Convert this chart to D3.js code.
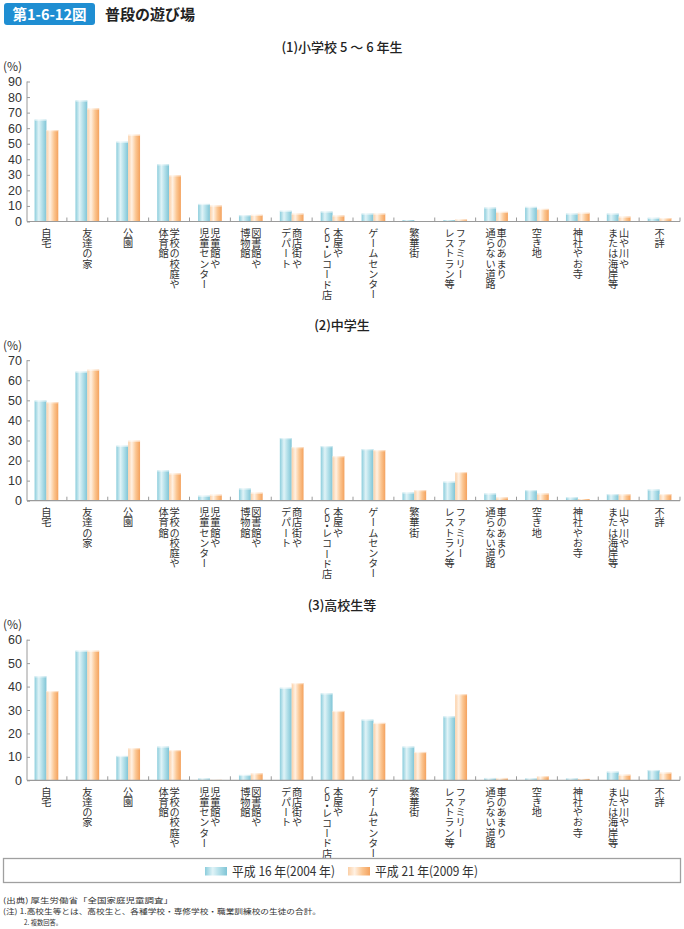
<!DOCTYPE html>
<html><head><meta charset="utf-8">
<script src="https://cdn.jsdelivr.net/npm/d3@7/dist/d3.min.js"></script>
<style>
html,body{margin:0;padding:0;background:#fff;}
svg{display:block;font-family:"Noto Sans CJK JP","Noto Sans",sans-serif;}
</style></head>
<body>
<script>
// ---- data ----
const categories = ["自宅","友達の家","公園","学校の校庭や\n体育館","児童館や\n児童センター","図書館や\n博物館","商店街や\nデパート","本屋や\nCD・レコード店","ゲームセンター","繁華街","ファミリー\nレストラン等","車のあまり\n通らない道路","空き地","神社やお寺","山や川や\nまたは海岸等","不詳"];
const seriesNames = ["平成 16 年(2004 年)","平成 21 年(2009 年)"];
const panelTitles = ["(1)小学校 5 〜 6 年生","(2)中学生","(3)高校生等"];
const elem2004 = [65.5,77.8,51.3,36.8,11.3,4.1,6.9,6.4,5.1,0.9,0.9,9.0,9.4,5.1,5.1,2.4];
const elem2009 = [58.8,72.7,55.8,29.7,10.3,4.3,5.1,3.9,5.1,0.3,1.5,6.2,8.1,5.6,3.2,2.2];
const junior2004 = [49.9,64.3,27.4,15.1,2.5,6.1,31.2,27.2,25.7,4.1,9.5,3.6,5.3,1.8,3.3,5.6];
const junior2009 = [49.1,65.3,29.9,13.6,3.0,4.0,26.7,22.2,25.2,5.3,14.3,1.7,3.6,0.8,3.2,3.3];
const high2004 = [44.4,55.3,10.4,14.4,0.9,2.3,39.5,37.1,25.9,14.4,27.3,1.0,0.9,0.9,3.7,4.4];
const high2009 = [38.1,55.3,13.7,12.9,0.2,3.0,41.5,29.6,24.5,12.1,36.8,1.0,1.8,0.6,2.4,3.3];
const yTicks1 = [0,10,20,30,40,50,60,70,80,90];
const yTicks2 = [0,10,20,30,40,50,60,70];
const yTicks3 = [0,10,20,30,40,50,60];
const sourceNote = "(出典) 厚生労働省「全国家庭児童調査」";
const note1 = "(注) 1.高校生等とは、高校生と、各種学校・専修学校・職業訓練校の生徒の合計。";
const note2 = "2. 複数回答。";

const W = 684, H = 929;
const svg = d3.select("body").append("svg").attr("width", W).attr("height", H);

// gradients
const defs = svg.append("defs");
function grad(id, stops){
  const g = defs.append("linearGradient").attr("id", id).attr("x1","0%").attr("x2","100%").attr("y1","0%").attr("y2","0%");
  stops.forEach(s => g.append("stop").attr("offset", s[0]).attr("stop-color", s[1]));
}
grad("gBlue", [["0%","#8bcddc"],["35%","#e0f3f7"],["60%","#b8e2eb"],["100%","#80c5d6"]]);
grad("gOrange", [["0%","#fbcfa6"],["30%","#fff1e3"],["65%","#fbc590"],["100%","#f4a25e"]]);
const fills = ["url(#gBlue)","url(#gOrange)"];
const numFont = "'Liberation Sans', Arial, sans-serif";

// header
svg.append("rect").attr("x",4).attr("y",3).attr("width",91).attr("height",22).attr("rx",3).attr("fill","#1f8ed2");
svg.append("text").attr("x",49.5).attr("y",19.5).attr("text-anchor","middle").attr("fill","#fff")
  .attr("font-size",14.5).attr("font-weight","bold").text("第1-6-12図");
svg.append("text").attr("x",105).attr("y",20).attr("fill","#222")
  .attr("font-size",15).attr("font-weight","bold").text("普段の遊び場");

const panels = [
  {title: panelTitles[0], data:[elem2004, elem2009], ticks: yTicks1, top:81.5, bottom:221.5},
  {title: panelTitles[1], data:[junior2004, junior2009], ticks: yTicks2, top:360.2, bottom:500.7},
  {title: panelTitles[2], data:[high2004, high2009], ticks: yTicks3, top:639.7, bottom:780.3}
];

const x = d3.scaleBand().domain(categories).range([26, 680]).padding(0);
const bw = x.bandwidth();
const x1 = d3.scaleBand().domain([0,1]).range([bw/2 - bw*0.29, bw/2 + bw*0.29]).padding(0);
const axisColor = "#9a9a9a";

panels.forEach(p => {
  const g = svg.append("g");
  const y = d3.scaleLinear().domain([0, d3.max(p.ticks)]).range([p.bottom, p.top]);
  // title
  g.append("text").attr("x", 342).attr("y", p.top - 30).attr("text-anchor","middle")
    .attr("font-size",13).attr("font-weight",500).attr("fill","#222").text(p.title);
  g.append("text").attr("x", 3).attr("y", p.top - 10.5).attr("font-size",12).attr("fill","#333").text("(%)");
  // y axis
  const ya = g.append("g").attr("transform","translate(27,0)")
    .call(d3.axisRight(y).tickValues(p.ticks).tickSize(3).tickFormat(""));
  ya.select(".domain").remove();
  ya.selectAll(".tick line").attr("stroke", axisColor);
  g.append("line").attr("x1",27).attr("x2",27).attr("y1",y(d3.max(p.ticks))).attr("y2",p.bottom).attr("stroke",axisColor);
  g.selectAll(".ylab").data(p.ticks).join("text").attr("class","ylab")
    .attr("x",22).attr("y", d => y(d) + 4.5).attr("text-anchor","end")
    .attr("font-family", numFont).attr("font-size",12.5).attr("fill","#333").text(d => d);
  // bars
  categories.forEach((c, i) => {
    [0,1].forEach(s => {
      const v = p.data[s][i];
      g.append("rect").attr("x", x(c) + x1(s)).attr("width", x1.bandwidth())
        .attr("y", y(v)).attr("height", p.bottom - y(v)).attr("fill", fills[s]);
      if (p.bottom - y(v) > 2) {
        g.append("rect").attr("x", x(c) + x1(s)).attr("width", x1.bandwidth())
          .attr("y", y(v)).attr("height", 1.2).attr("fill", "#fff").attr("opacity", 0.55);
      }
    });
  });
  // x axis line
  g.append("line").attr("x1",27).attr("x2",680).attr("y1",p.bottom).attr("y2",p.bottom).attr("stroke",axisColor).attr("stroke-width",1.2);
  categories.forEach((c,i) => {
    const xx = x(c) + bw;
    g.append("line").attr("x1",xx).attr("x2",xx).attr("y1",p.bottom).attr("y2",p.bottom-4).attr("stroke",axisColor);
  });
  // category labels (vertical)
  categories.forEach(c => {
    const lines = c.split("\n");
    const cx = x(c) + bw/2;
    lines.forEach((ln, k) => {
      const off = lines.length === 1 ? 0 : (k === 0 ? 5.5 : -5.5);
      const t = g.append("text").attr("x", cx + off).attr("y", p.bottom + 6.5)
        .style("writing-mode","vertical-rl").style("text-orientation","upright")
        .attr("font-size",10.2).attr("fill","#333");
      const runs = ln.match(/[A-Za-z]+|・|[^A-Za-z・]+/g);
      const hasLatin = /[A-Za-z]/.test(ln);
      runs.forEach(r => {
        const ts = t.append("tspan").text(r);
        if (/^[A-Za-z]+$/.test(r)) ts.style("font-size","8.5px").style("letter-spacing","-1.5px");
        else if (r === "・" && hasLatin) ts.style("letter-spacing","-3.5px");
      });
    });
  });
});

// legend
svg.append("rect").attr("x",3.5).attr("y",858.5).attr("width",677).attr("height",24)
  .attr("fill","none").attr("stroke","#a0a0a0").attr("stroke-width",1.3);
const legX = [205, 348];
seriesNames.forEach((n, i) => {
  svg.append("rect").attr("x", legX[i]).attr("y", 867).attr("width", 22).attr("height", 8.5).attr("fill", fills[i]);
  svg.append("text").attr("x", legX[i] + 27).attr("y", 876).attr("font-size", 13).attr("fill","#333")
    .attr("textLength", 103).attr("lengthAdjust","spacingAndGlyphs").text(n);
});

// notes
const notes = [
  {t: sourceNote, x: 3, y: 903, w: 170},
  {t: note1, x: 3, y: 913.8, w: 318},
  {t: note2, x: 24, y: 924.6, w: 38}
];
notes.forEach(n => {
  svg.append("text").attr("x", n.x).attr("y", n.y).attr("font-size", 7.4).attr("fill", "#333")
    .attr("textLength", n.w).attr("lengthAdjust", "spacingAndGlyphs").text(n.t);
});
</script>
</body></html>
